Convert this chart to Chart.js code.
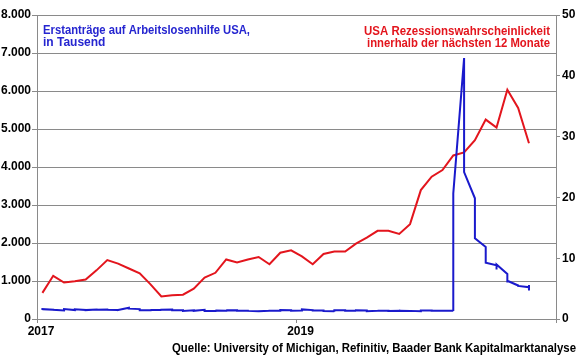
<!DOCTYPE html>
<html>
<head>
<meta charset="utf-8">
<script src="https://cdn.jsdelivr.net/npm/chart.js@4.4.1/dist/chart.umd.min.js"></script>
<style>
  html, body { margin: 0; padding: 0; background: #fff; }
  #c { display: block; }
</style>
</head>
<body>
<canvas id="c" width="580" height="359"></canvas>
<script>
// ---- Data ----
// Months (categories) Jan 2017 .. Oct 2020
const months = [
  '2017-01','2017-02','2017-03','2017-04','2017-05','2017-06','2017-07','2017-08','2017-09','2017-10','2017-11','2017-12',
  '2018-01','2018-02','2018-03','2018-04','2018-05','2018-06','2018-07','2018-08','2018-09','2018-10','2018-11','2018-12',
  '2019-01','2019-02','2019-03','2019-04','2019-05','2019-06','2019-07','2019-08','2019-09','2019-10','2019-11','2019-12',
  '2020-01','2020-02','2020-03','2020-04','2020-05','2020-06','2020-07','2020-08','2020-09','2020-10'
];
// USA recession probability within next 12 months (%), right axis
const recessionProb = [
  4.3, 7.1, 6.0, 6.2, 6.5, 8.0, 9.7, 9.1, 8.3, 7.5, 5.7, 3.7,
  3.9, 4.0, 5.0, 6.8, 7.6, 9.8, 9.3, 9.8, 10.2, 9.0, 10.9, 11.3,
  10.3, 9.0, 10.7, 11.1, 11.1, 12.4, 13.4, 14.5, 14.5, 14.0, 15.6, 21.2,
  23.4, 24.5, 26.9, 27.4, 29.4, 32.8, 31.5, 37.7, 34.7, 28.9
];
// Weekly initial jobless claims (thousands), grouped by month (left axis)
const claimsByMonth = [
  [235,247,234,259],[246,234,239,244],[223,243,241,258,261],[234,234,244,257],[238,236,232,234],[248,245,241,244],
  [248,247,233,244],[240,244,232,234,236],[298,284,259,272],[260,243,222,233],[229,239,249,239,238],[236,225,245,245],
  [250,261,220,233],[230,221,230,222,210],[231,226,229,215],[242,233,232,209],[211,211,222,234,221],[218,231,218,227],
  [231,214,207,217],[218,213,212,210,213],[203,204,201,207],[214,207,210,215],[214,214,216,224,234],[231,206,214,216],
  [221,216,213,199,253],[234,239,216,225],[225,223,229,221,211],[202,196,192,230],[228,212,211,215],[218,222,216,227],
  [221,209,216,206],[215,209,220,216,215],[217,204,208,213],[219,220,214,212,218],[211,225,227,213],[203,252,234,222],
  [222,214,211,216],[216,202,205,210,219],[216,211,281,3307],[6867,6615,5237,4442,3867],[3176,2687,2446,2123],[1897,1566,1508,1482],
  [1413,1314,1300,1416,1434],[1186,963,1106,1006],[881,884,860,870],[837,898,787,751]
];
// Axis tick labels
const xTickLabels = { 0: '2017', 24: '2019' };
const leftTicks = [0, 1000, 2000, 3000, 4000, 5000, 6000, 7000, 8000];
const rightTicks = [0, 10, 20, 30, 40, 50];

// ---- Build points (monthly date axis: each month is one bin, points at bin centre) ----
const claimPoints = [];
claimsByMonth.forEach((vals, i) => vals.forEach(v => claimPoints.push({ x: i + 0.5, y: v })));
const probPoints = recessionProb.map((v, i) => ({ x: i + 0.5, y: v }));

const FONT = '"Liberation Sans", Arial, sans-serif';
const GRID = '#8a8a8a';
const BLUE = '#1a1acc';
const RED = '#e3151d';

const bgPlugin = {
  id: 'bg',
  beforeDraw(chart) {
    const ctx = chart.ctx;
    ctx.save();
    ctx.fillStyle = '#fff';
    ctx.fillRect(0, 0, chart.width, chart.height);
    ctx.restore();
  }
};

const textPlugin = {
  id: 'texts',
  afterDraw(chart) {
    const ctx = chart.ctx;
    ctx.save();
    ctx.textBaseline = 'alphabetic';
    ctx.font = 'bold 12px ' + FONT;
    ctx.fillStyle = '#2525d0';
    ctx.textAlign = 'left';
    ctx.fillText('Erstanträge auf Arbeitslosenhilfe USA,', 43, 34, 207);
    ctx.fillText('in Tausend', 43, 46);
    ctx.fillStyle = RED;
    ctx.textAlign = 'right';
    ctx.fillText('USA Rezessionswahrscheinlickeit', 550, 35, 186);
    ctx.fillText('innerhalb der nächsten 12 Monate', 550, 47, 183);
    ctx.fillStyle = '#000';
    ctx.font = 'bold 12px ' + FONT;
    ctx.fillText('Quelle: University of Michigan, Refinitiv, Baader Bank Kapitalmarktanalyse', 576, 352, 404);
    ctx.restore();
  }
};

new Chart(document.getElementById('c'), {
  type: 'line',
  data: {
    datasets: [
      {
        label: 'Erstanträge auf Arbeitslosenhilfe USA',
        data: claimPoints,
        yAxisID: 'y',
        borderColor: BLUE,
        backgroundColor: BLUE,
        borderWidth: 2,
        pointRadius: 0,
        tension: 0,
        fill: false
      },
      {
        label: 'USA Rezessionswahrscheinlickeit',
        data: probPoints,
        yAxisID: 'y1',
        borderColor: RED,
        backgroundColor: RED,
        borderWidth: 2,
        pointRadius: 0,
        tension: 0,
        fill: false
      }
    ]
  },
  options: {
    responsive: false,
    animation: false,
    devicePixelRatio: 1,
    layout: { padding: { top: 15, left: 0, right: 0, bottom: 0 } },
    plugins: { legend: { display: false }, tooltip: { enabled: false } },
    scales: {
      x: {
        type: 'linear',
        position: 'bottom',
        min: 0,
        max: months.length + 2,
        afterBuildTicks: (s) => { s.ticks = [0, 24, 48].map(v => ({ value: v })); },
        afterFit: (s) => { s.height = 40; },
        ticks: {
          callback: (v) => xTickLabels[v] || '',
          align: 'center',
          labelOffset: 4,
          maxRotation: 0,
          autoSkip: false,
          padding: 1,
          color: '#000',
          font: { family: FONT, weight: 'bold', size: 12 }
        },
        grid: { drawOnChartArea: false, drawTicks: true, tickLength: 4, color: GRID },
        border: { color: GRID, width: 1 }
      },
      y: {
        position: 'left',
        min: 0,
        max: 8000,
        afterBuildTicks: (s) => { s.ticks = leftTicks.map(v => ({ value: v })); },
        afterFit: (s) => { s.width = 37; },
        ticks: {
          callback: (v) => v.toLocaleString('de-DE'),
          padding: 1,
          color: '#000',
          font: { family: FONT, weight: 'bold', size: 12 }
        },
        grid: { color: GRID, tickLength: 5 },
        border: { color: GRID, width: 1 }
      },
      y1: {
        position: 'right',
        min: 0,
        max: 50,
        afterBuildTicks: (s) => { s.ticks = rightTicks.map(v => ({ value: v })); },
        afterFit: (s) => { s.width = 24; },
        ticks: {
          padding: 2,
          color: '#000',
          font: { family: FONT, weight: 'bold', size: 12 }
        },
        grid: { drawOnChartArea: false, color: GRID, tickLength: 4 },
        border: { color: GRID, width: 1 }
      }
    }
  },
  plugins: [bgPlugin, textPlugin]
});
</script>
</body>
</html>
